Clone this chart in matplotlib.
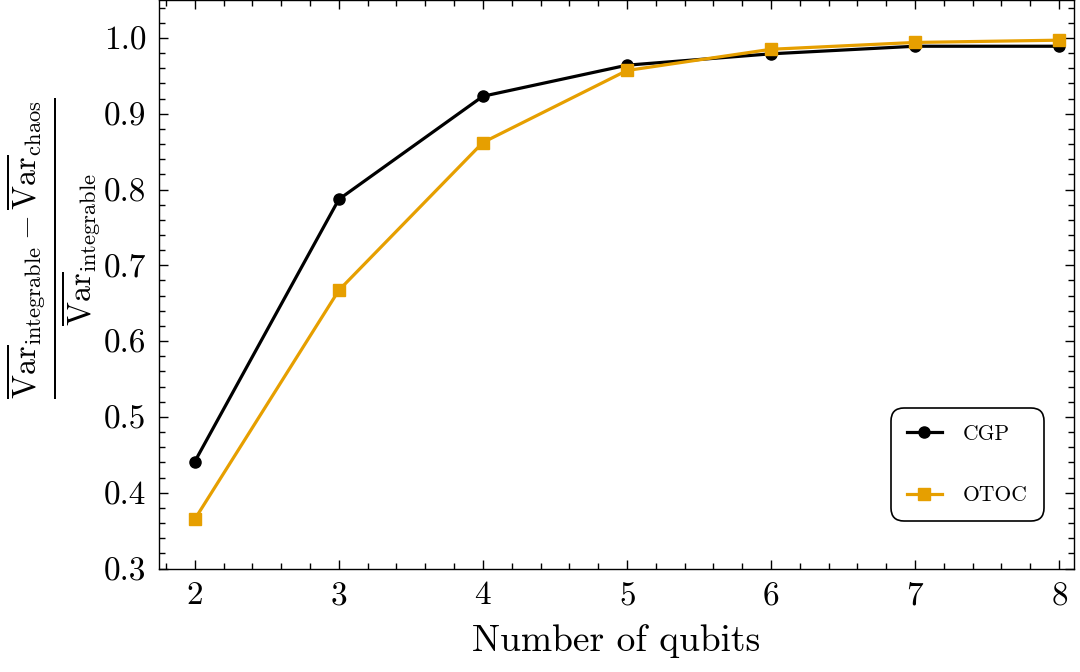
import matplotlib
matplotlib.use('Agg')
import matplotlib.pyplot as plt
from matplotlib.ticker import MultipleLocator

plt.rcParams['font.family'] = 'serif'
plt.rcParams['font.serif'] = ['cmr10', 'DejaVu Serif']
plt.rcParams['mathtext.fontset'] = 'cm'
plt.rcParams['axes.formatter.use_mathtext'] = True
plt.rcParams['axes.unicode_minus'] = False

qubits = [2, 3, 4, 5, 6, 7, 8]
cgp = [0.441, 0.787, 0.923, 0.964, 0.979, 0.989, 0.989]
otoc = [0.365, 0.667, 0.862, 0.957, 0.985, 0.994, 0.997]

fig = plt.figure(figsize=(10.8, 6.72), dpi=100)
ax = fig.add_axes([0.147, 0.154, 0.847, 0.846])

ax.plot(qubits, cgp, color='black', marker='o', markersize=8, linewidth=2.3, label='CGP')
ax.plot(qubits, otoc, color='#E69F00', marker='s', markersize=8, linewidth=2.3, label='OTOC')

ax.set_xlim(1.75, 8.1)
ax.set_ylim(0.3, 1.05)
ax.xaxis.set_major_locator(MultipleLocator(1))
ax.xaxis.set_minor_locator(MultipleLocator(0.2))
ax.yaxis.set_major_locator(MultipleLocator(0.1))
ax.yaxis.set_minor_locator(MultipleLocator(0.02))
ax.yaxis.set_major_formatter(matplotlib.ticker.FormatStrFormatter('%.1f'))
ax.tick_params(which='both', direction='in', top=True, right=True, labelsize=24, width=1.0)
ax.tick_params(which='major', length=6.5, pad=9)
ax.tick_params(which='minor', length=4)
for s in ax.spines.values():
    s.set_linewidth(1.0)

ax.set_xlabel('Number of qubits', fontsize=27, labelpad=10)
ax.set_ylabel(r'$\frac{\overline{\mathrm{Var}}_{\mathrm{integrable}}-\overline{\mathrm{Var}}_{\mathrm{chaos}}}{\overline{\mathrm{Var}}_{\mathrm{integrable}}}$',
              fontsize=33)
ax.yaxis.set_label_coords(-0.062, 0.563)

leg = ax.legend(loc='lower right', bbox_to_anchor=(0.968, 0.083), borderaxespad=0,
                fontsize=15.5, fancybox=True, edgecolor='black', framealpha=1,
                labelspacing=1.95, borderpad=0.75, handlelength=1.6, handletextpad=1.0)
leg.get_frame().set_linewidth(1.2)
leg.get_frame().set_boxstyle('round', pad=0, rounding_size=0.6)

fig.savefig('out.png', dpi=100)
